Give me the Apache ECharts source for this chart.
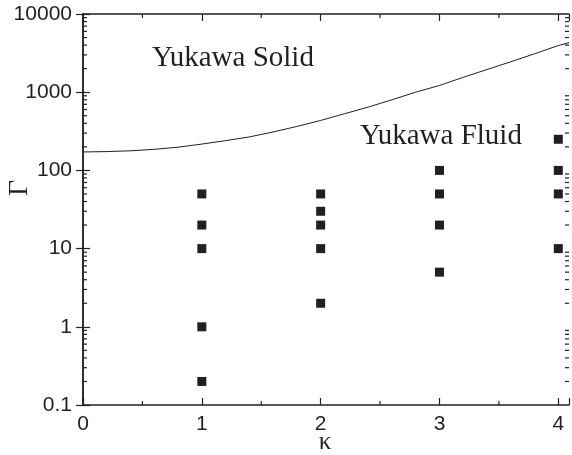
<!DOCTYPE html>
<html>
<head>
<meta charset="utf-8">
<script src="https://cdn.jsdelivr.net/npm/echarts@6/dist/echarts.min.js"></script>
<style>html,body{margin:0;padding:0;background:#fff}#c{width:572px;height:455px}</style>
</head>
<body>
<div id="c"></div>
<script>
// Melting curve (Gamma_m vs kappa)
var curveKappa = [0, 0.2, 0.4, 0.6, 0.8, 1.0, 1.2, 1.4, 1.6, 1.8, 2.0, 2.2, 2.4, 2.6, 2.8, 3.0, 3.2, 3.4, 3.6, 3.8, 4.0, 4.09];
var curveGamma = [172, 174, 178, 186, 198, 217, 240, 268, 310, 365, 435, 530, 645, 800, 1000, 1220, 1550, 1950, 2450, 3100, 3950, 4300];
// Simulation points
var pointKappa = [1, 1, 1, 1, 1, 2, 2, 2, 2, 2, 3, 3, 3, 3, 4, 4, 4, 4];
var pointGamma = [50, 20, 10, 1, 0.2, 50, 30, 20, 10, 2, 100, 50, 20, 5, 250, 100, 50, 10];
// Axis settings
var xMin = 0, xMax = 4.09;
var yMin = 0.1, yMax = 10000;
var xMinorTicks = [0.5, 1.5, 2.5, 3.5];
var yMinorMantissas = [2, 3, 4, 5, 6, 7, 8, 9];
var yDecades = [0.1, 1, 10, 100, 1000];

var ink = '#231f20';
var chart = echarts.init(document.getElementById('c'));

var curveData = curveKappa.map(function (k, i) { return [k, curveGamma[i]]; });
var pointData = pointKappa.map(function (k, i) { return [k, pointGamma[i]]; });

// minor tick data: [x, y, direction] 0=left side,1=right side,2=bottom,3=top
var minorData = [];
yDecades.forEach(function (d) {
  yMinorMantissas.forEach(function (m) {
    var v = +(m * d).toPrecision(6);
    minorData.push([xMin, v, 0]);
    minorData.push([xMax, v, 1]);
  });
});
xMinorTicks.forEach(function (x) {
  minorData.push([x, yMin, 2]);
  minorData.push([x, yMax, 3]);
});

var axisLineStyle = { color: ink, width: 1.5 };

chart.setOption({
  animation: false,
  backgroundColor: '#fff',
  grid: { left: 83, right: 2, top: 14, bottom: 50, containLabel: false },
  xAxis: [{
    type: 'value', position: 'bottom', min: xMin, max: xMax, interval: 1,
    splitLine: { show: false },
    axisLine: { lineStyle: axisLineStyle },
    axisTick: { inside: true, length: 7, lineStyle: { color: ink, width: 1.2 } },
    axisLabel: {
      margin: 9, fontFamily: 'Liberation Sans', fontSize: 21, color: ink,
      formatter: function (v) { return Math.abs(v - Math.round(v)) < 1e-6 ? String(Math.round(v)) : ''; }
    }
  }, {
    type: 'value', position: 'top', min: xMin, max: xMax, interval: 1,
    splitLine: { show: false },
    axisLine: { lineStyle: axisLineStyle },
    axisTick: { inside: true, length: 7, lineStyle: { color: ink, width: 1.2 } },
    axisLabel: { show: false }
  }],
  yAxis: [{
    type: 'log', logBase: 10, min: yMin, max: yMax, position: 'left',
    splitLine: { show: false },
    axisLine: { lineStyle: axisLineStyle },
    axisTick: { inside: true, length: 7, lineStyle: { color: ink, width: 1.2 } },
    axisLabel: {
      margin: 11, fontFamily: 'Liberation Sans', fontSize: 21, color: ink,
      formatter: function (v) { return String(+v.toPrecision(6)); }
    }
  }, {
    type: 'log', logBase: 10, min: yMin, max: yMax, position: 'right',
    splitLine: { show: false },
    axisLine: { lineStyle: axisLineStyle },
    axisTick: { inside: true, length: 7, lineStyle: { color: ink, width: 1.2 } },
    axisLabel: { show: false }
  }],
  series: [{
    type: 'line', xAxisIndex: 0, yAxisIndex: 0, data: curveData,
    showSymbol: false, symbol: 'none', smooth: false,
    lineStyle: { color: ink, width: 1 }, silent: true
  }, {
    type: 'scatter', xAxisIndex: 0, yAxisIndex: 0, data: pointData,
    symbol: 'rect', symbolSize: 9,
    itemStyle: { color: ink, opacity: 1 }, silent: true
  }, {
    type: 'custom', xAxisIndex: 0, yAxisIndex: 0, data: minorData, clip: false, silent: true,
    renderItem: function (params, api) {
      var p = api.coord([api.value(0), api.value(1)]);
      var dir = api.value(2), L = 4;
      var x2 = p[0], y2 = p[1];
      if (dir === 0) x2 = p[0] + L;
      else if (dir === 1) x2 = p[0] - L;
      else if (dir === 2) y2 = p[1] - L;
      else y2 = p[1] + L;
      return { type: 'line', shape: { x1: p[0], y1: p[1], x2: x2, y2: y2 },
        style: { stroke: ink, lineWidth: 1.2 } };
    }
  }],
  graphic: [
    { type: 'text', left: 152, top: 44, style: { text: 'Yukawa Solid', font: '29px "Liberation Serif"', fill: ink } },
    { type: 'text', left: 360, top: 122, style: { text: 'Yukawa Fluid', font: '29px "Liberation Serif"', fill: ink } },
    { type: 'text', x: 20, y: 188, rotation: Math.PI / 2,
      style: { text: 'Γ', font: '28px "Liberation Serif"', fill: ink, align: 'center', verticalAlign: 'middle' } },
    { type: 'text', x: 325, y: 442, style: { text: 'κ', font: '25px "Liberation Serif"', fill: ink, align: 'center', verticalAlign: 'middle' } }
  ]
});
</script>
</body>
</html>
